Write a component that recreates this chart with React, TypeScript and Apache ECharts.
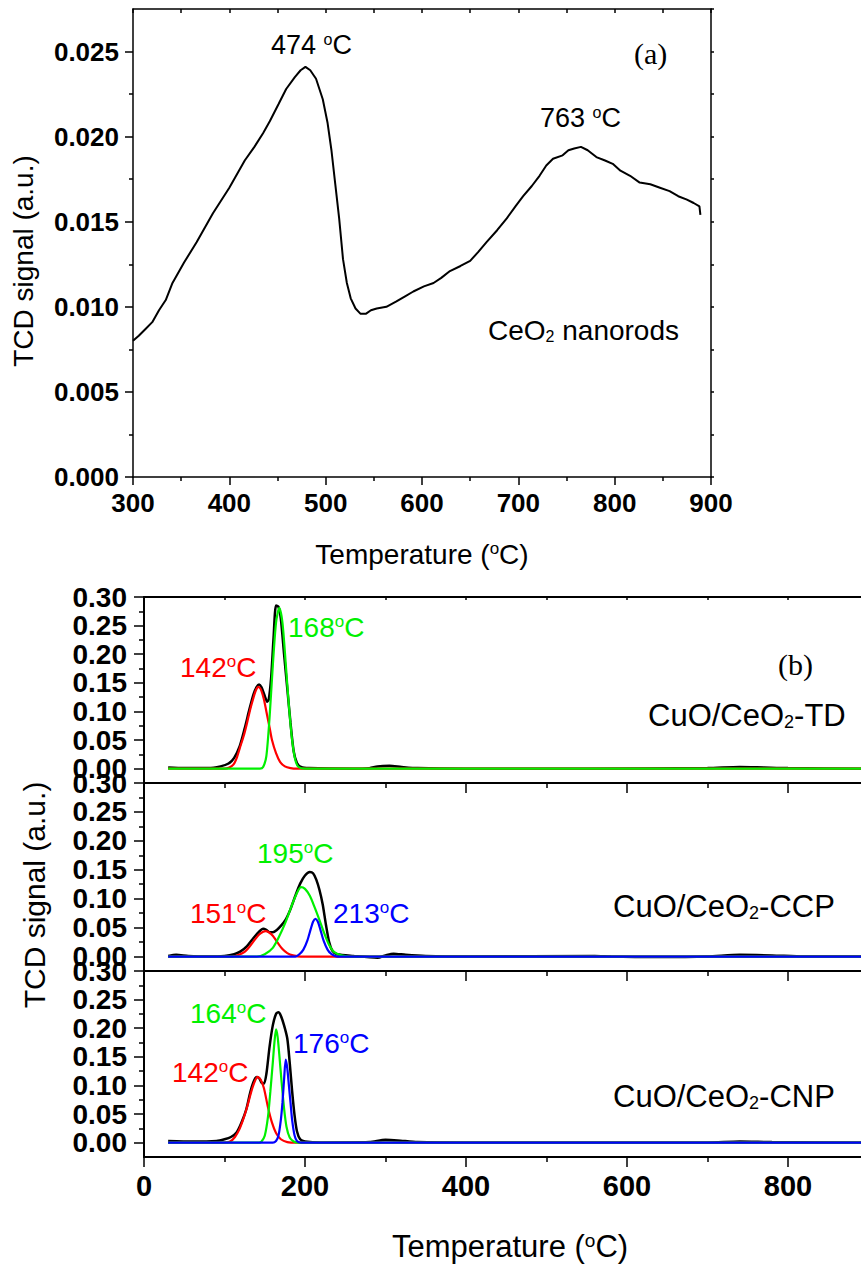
import React, { useEffect, useRef } from "react";
import * as echarts from "echarts";

const SANS = "'Liberation Sans', Arial, Helvetica, sans-serif";
const SERIF = "'Liberation Serif', 'Times New Roman', serif";
const RED = "#ff0000";
const GREEN = "#00f000";
const BLUE = "#0000ff";

// ---------- (a) CeO2 nanorods: [temperature °C, TCD signal] ----------
const ceo2Rods: number[][] = [
  [300, 0.0080], [306, 0.0083], [313, 0.0087], [320, 0.0091], [327, 0.0098], [334, 0.0104], [341, 0.0114],
  [353, 0.0126], [366, 0.0138], [383, 0.0155], [400, 0.0170], [416, 0.0186], [426, 0.0194], [435, 0.0202],
  [442, 0.0209], [451, 0.0219], [459, 0.0228], [468, 0.0235], [474, 0.0239], [479, 0.0241], [484, 0.0239],
  [490, 0.0234], [497, 0.0222], [502, 0.0208], [506, 0.0192], [510, 0.0172], [514, 0.0152], [518, 0.0128],
  [522, 0.0114], [526, 0.0105], [531, 0.0099], [536, 0.0096], [542, 0.0096], [547, 0.0098], [553, 0.0099],
  [563, 0.0100], [573, 0.0103], [582, 0.0106], [591, 0.0109], [602, 0.0112], [612, 0.0114], [620, 0.0117],
  [629, 0.0121], [640, 0.0124], [650, 0.0127], [658, 0.0132], [667, 0.0138], [678, 0.0145], [688, 0.0152],
  [697, 0.0159], [705, 0.0165], [714, 0.0171], [722, 0.0177], [729, 0.0183], [736, 0.0187], [746, 0.0189],
  [752, 0.0192], [758, 0.0193], [765, 0.0194], [772, 0.0192], [781, 0.0188], [790, 0.0186], [798, 0.0184],
  [806, 0.0180], [816, 0.0177], [826, 0.0173], [837, 0.0172], [847, 0.0170], [857, 0.0168], [866, 0.0165],
  [875, 0.0163], [882, 0.0161], [888, 0.0159], [889, 0.0154],
];

// ---------- (b) CuO/CeO2-TD ----------
const tdTotal: number[][] = [
  [30, 0.002], [50, 0.001], [80, 0.001], [95, 0.004], [105, 0.009], [112, 0.019], [119, 0.04], [125, 0.07],
  [131, 0.104], [136, 0.13], [140, 0.143], [143, 0.147], [146, 0.142], [150, 0.127], [153, 0.117], [155, 0.121],
  [158, 0.16], [161, 0.23], [164, 0.285], [167, 0.283], [170, 0.262], [174, 0.2], [178, 0.14], [182, 0.08],
  [186, 0.03], [190, 0.01], [195, 0.003], [205, 0.001], [260, 0], [280, 0.001], [290, 0.004], [305, 0.005],
  [320, 0.003], [340, 0.001], [400, 0], [550, 0], [700, 0.001], [740, 0.003], [770, 0.002], [800, 0.001], [900, 0],
];
const tdPeak142: number[][] = [
  [30, 0], [100, 0], [106, 0.002], [111, 0.007], [115, 0.018], [119, 0.036], [124, 0.058], [128, 0.08],
  [132, 0.104], [136, 0.124], [139, 0.137], [142, 0.143], [145, 0.139], [149, 0.121], [152, 0.1], [156, 0.072],
  [159, 0.05], [164, 0.027], [169, 0.012], [175, 0.004], [182, 0.001], [190, 0], [900, 0],
];
const tdPeak168: number[][] = [
  [30, 0], [144, 0], [148, 0.003], [152, 0.022], [156, 0.09], [160, 0.18], [164, 0.255], [168, 0.281],
  [172, 0.255], [176, 0.185], [180, 0.11], [184, 0.05], [188, 0.015], [192, 0.003], [200, 0], [900, 0],
];

// ---------- (b) CuO/CeO2-CCP ----------
const ccpTotal: number[][] = [
  [30, 0.001], [40, 0.003], [55, 0.001], [80, 0], [100, 0.001], [112, 0.004], [120, 0.009], [128, 0.018],
  [136, 0.032], [143, 0.043], [148, 0.048], [152, 0.046], [156, 0.042], [160, 0.042], [165, 0.046], [170, 0.053],
  [176, 0.064], [182, 0.082], [188, 0.105], [194, 0.126], [200, 0.14], [206, 0.146], [210, 0.144], [214, 0.133],
  [218, 0.115], [222, 0.09], [226, 0.055], [230, 0.025], [234, 0.01], [240, 0.004], [260, 0.001], [290, -0.002],
  [300, 0.002], [310, 0.005], [325, 0.003], [350, 0.001], [400, 0], [560, 0.001], [580, 0], [640, -0.001],
  [700, 0], [740, 0.003], [780, 0.002], [820, 0], [900, 0],
];
const ccpPeak151: number[][] = [
  [30, 0], [110, 0], [118, 0.003], [125, 0.008], [131, 0.017], [137, 0.028], [143, 0.038], [148, 0.043],
  [151, 0.044], [155, 0.042], [160, 0.036], [166, 0.024], [172, 0.013], [178, 0.006], [185, 0.002], [195, 0], [900, 0],
];
const ccpPeak195: number[][] = [
  [30, 0], [140, 0], [150, 0.004], [160, 0.015], [168, 0.035], [176, 0.06], [184, 0.09], [190, 0.11],
  [195, 0.12], [200, 0.117], [206, 0.105], [212, 0.085], [218, 0.063], [224, 0.04], [230, 0.02], [236, 0.008],
  [245, 0.002], [255, 0], [900, 0],
];
const ccpPeak213: number[][] = [
  [30, 0], [188, 0], [193, 0.004], [198, 0.012], [203, 0.028], [207, 0.047], [210, 0.06], [213, 0.065],
  [216, 0.06], [219, 0.047], [223, 0.028], [228, 0.012], [233, 0.004], [240, 0], [900, 0],
];

// ---------- (b) CuO/CeO2-CNP ----------
const cnpTotal: number[][] = [
  [30, 0.003], [60, 0.002], [90, 0.003], [100, 0.006], [108, 0.01], [115, 0.018], [121, 0.035], [127, 0.058],
  [132, 0.088], [136, 0.106], [140, 0.115], [143, 0.113], [146, 0.105], [149, 0.103], [152, 0.12], [156, 0.168],
  [160, 0.205], [164, 0.225], [167, 0.228], [170, 0.222], [174, 0.205], [178, 0.182], [181, 0.14], [184, 0.09],
  [187, 0.048], [190, 0.02], [194, 0.006], [200, 0.002], [220, 0], [280, 0.001], [300, 0.005], [315, 0.004],
  [340, 0.001], [400, 0], [700, 0], [740, 0.002], [780, 0.001], [900, 0],
];
const cnpPeak142: number[][] = [
  [30, 0], [100, 0], [107, 0.002], [113, 0.01], [118, 0.022], [123, 0.04], [128, 0.062], [133, 0.088],
  [137, 0.105], [141, 0.115], [145, 0.11], [149, 0.095], [154, 0.062], [159, 0.035], [164, 0.017], [170, 0.006],
  [178, 0.001], [190, 0], [900, 0],
];
const cnpPeak164: number[][] = [
  [30, 0], [143, 0], [146, 0.002], [150, 0.012], [154, 0.045], [157, 0.09], [160, 0.14], [162, 0.175],
  [164, 0.198], [166, 0.185], [168, 0.155], [171, 0.105], [174, 0.06], [177, 0.028], [181, 0.009], [186, 0.002],
  [192, 0], [900, 0],
];
const cnpPeak176: number[][] = [
  [30, 0], [160, 0], [164, 0.003], [167, 0.012], [170, 0.04], [172, 0.07], [174, 0.11], [176, 0.145],
  [178, 0.13], [180, 0.1], [182, 0.07], [184, 0.04], [187, 0.013], [190, 0.003], [195, 0], [900, 0],
];

// tick / label values
const aYLabels = [0, 0.005, 0.01, 0.015, 0.02, 0.025];
const aYMinor = [0.0025, 0.0075, 0.0125, 0.0175, 0.0225];
const aYRight = [0, 0.0025, 0.005, 0.0075, 0.01, 0.0125, 0.015, 0.0175, 0.02, 0.0225, 0.025, 0.0275];
const bYLabels = [0, 0.05, 0.1, 0.15, 0.2, 0.25, 0.3];
const bYMinor = [0.025, 0.075, 0.125, 0.175, 0.225, 0.275];

function rich(size: number, color: string, family: string = SANS) {
  return {
    n: { fontSize: size, lineHeight: size, fontFamily: family, fill: color },
    sup: { fontSize: Math.round(size * 0.6), lineHeight: size * 0.4, verticalAlign: "top", fontFamily: family, fill: color },
    sub: { fontSize: Math.round(size * 0.58), lineHeight: 2, verticalAlign: "bottom", fontFamily: family, fill: color },
  };
}

function txt(x: number, y: number, text: string, size: number, color = "#000", opts: any = {}) {
  return {
    type: "text",
    x,
    y,
    rotation: opts.rotation || 0,
    z: 100,
    style: {
      text,
      rich: rich(size, color, opts.family || SANS),
      align: opts.align || "left",
      verticalAlign: "middle",
      fill: color,
    },
  };
}

const black = { color: "#000", width: 1.5 };

function valueAxisBase(extra: any) {
  return {
    type: "value",
    splitLine: { show: false },
    ...extra,
  };
}

export default function App() {
  const ref = useRef<HTMLDivElement>(null);

  useEffect(() => {
    const chart = echarts.init(ref.current!, null, { renderer: "svg" });

    const bXBottom = (grid: number, showLabels: boolean) =>
      valueAxisBase({
        gridIndex: grid,
        position: "bottom",
        min: 0,
        max: 900,
        interval: 200,
        axisLine: { show: true, onZero: false, lineStyle: { color: "#000", width: 2 } },
        axisTick: { show: true, inside: false, length: 10, lineStyle: { color: "#000", width: 1.5 } },
        minorTick: { show: true, splitNumber: 2, length: 5, lineStyle: { color: "#000", width: 1.5 } },
        axisLabel: showLabels
          ? { show: true, margin: 14, color: "#000", fontFamily: SANS, fontWeight: "bold", fontSize: 29, formatter: (v: number) => (v > 850 ? "" : String(v)) }
          : { show: false },
      });

    const bYMain = (grid: number) =>
      valueAxisBase({
        gridIndex: grid,
        position: "left",
        min: -0.025,
        max: 0.3,
        axisLine: { show: true, onZero: false, lineStyle: { color: "#000", width: 2 } },
        axisTick: { show: true, inside: false, length: 10, customValues: bYLabels, lineStyle: { color: "#000", width: 1.5 } },
        axisLabel: {
          show: true,
          customValues: bYLabels,
          margin: 17,
          color: "#000",
          fontFamily: SANS,
          fontWeight: "bold",
          fontSize: 28,
          formatter: (v: number) => v.toFixed(2),
        },
      });
    const bYMinorAxis = (grid: number) =>
      valueAxisBase({
        gridIndex: grid,
        position: "left",
        min: -0.025,
        max: 0.3,
        axisLine: { show: false, onZero: false },
        axisTick: { show: true, inside: false, length: 5, customValues: bYMinor, lineStyle: { color: "#000", width: 1.5 } },
        axisLabel: { show: false },
      });

    const line = (data: number[][], color: string, xi: number, yi: number, width = 2.2, smooth: any = 0.25) => ({
      type: "line",
      data,
      xAxisIndex: xi,
      yAxisIndex: yi,
      showSymbol: false,
      symbol: "none",
      smooth,
      lineStyle: { color, width },
      itemStyle: { color },
      silent: true,
    });

    const option: any = {
      animation: false,
      backgroundColor: "#ffffff",
      grid: [
        { left: 133, top: 9, width: 578, height: 468 },
        { left: 144, top: 597, width: 724.5, height: 186 },
        { left: 144, top: 783, width: 724.5, height: 188 },
        { left: 144, top: 971, width: 724.5, height: 186 },
      ],
      xAxis: [
        valueAxisBase({
          gridIndex: 0,
          position: "bottom",
          min: 300,
          max: 900,
          interval: 100,
          axisLine: { show: true, onZero: false, lineStyle: black },
          axisTick: { show: true, inside: false, length: 8, lineStyle: black },
          minorTick: { show: true, splitNumber: 2, length: 4, lineStyle: black },
          axisLabel: { show: true, margin: 13, color: "#000", fontFamily: SANS, fontWeight: "bold", fontSize: 26 },
        }),
        valueAxisBase({
          gridIndex: 0,
          position: "top",
          min: 300,
          max: 900,
          interval: 50,
          axisLine: { show: true, onZero: false, lineStyle: black },
          axisTick: { show: true, inside: true, length: 4, lineStyle: black },
          axisLabel: { show: false },
        }),
        bXBottom(1, false),
        valueAxisBase({
          gridIndex: 1,
          position: "top",
          min: 0,
          max: 900,
          interval: 100,
          axisLine: { show: true, onZero: false, lineStyle: { color: "#000", width: 2 } },
          axisTick: { show: true, inside: true, length: 3, lineStyle: black },
          axisLabel: { show: false },
        }),
        bXBottom(2, false),
        bXBottom(3, true),
      ],
      yAxis: [
        valueAxisBase({
          gridIndex: 0,
          position: "left",
          min: 0,
          max: 0.0275,
          axisLine: { show: true, onZero: false, lineStyle: black },
          axisTick: { show: true, inside: false, length: 8, customValues: aYLabels, lineStyle: black },
          axisLabel: {
            show: true,
            customValues: aYLabels,
            margin: 14,
            color: "#000",
            fontFamily: SANS,
            fontWeight: "bold",
            fontSize: 26,
            formatter: (v: number) => v.toFixed(3),
          },
        }),
        valueAxisBase({
          gridIndex: 0,
          position: "left",
          min: 0,
          max: 0.0275,
          axisLine: { show: false, onZero: false },
          axisTick: { show: true, inside: false, length: 4, customValues: aYMinor, lineStyle: black },
          axisLabel: { show: false },
        }),
        valueAxisBase({
          gridIndex: 0,
          position: "right",
          min: 0,
          max: 0.0275,
          axisLine: { show: true, onZero: false, lineStyle: black },
          axisTick: { show: true, inside: false, length: 3, customValues: aYRight, lineStyle: black },
          axisLabel: { show: false },
        }),
        bYMain(1),
        bYMinorAxis(1),
        bYMain(2),
        bYMinorAxis(2),
        bYMain(3),
        bYMinorAxis(3),
      ],
      series: [
        line(ceo2Rods, "#000", 0, 0, 2, false),
        line(tdTotal, "#000", 2, 3, 2.5),
        line(tdPeak142, RED, 2, 3),
        line(tdPeak168, GREEN, 2, 3),
        line(ccpTotal, "#000", 4, 5, 2.5),
        line(ccpPeak151, RED, 4, 5),
        line(ccpPeak195, GREEN, 4, 5),
        line(ccpPeak213, BLUE, 4, 5),
        line(cnpTotal, "#000", 5, 7, 2.5),
        line(cnpPeak142, RED, 5, 7),
        line(cnpPeak164, GREEN, 5, 7),
        line(cnpPeak176, BLUE, 5, 7),
      ],
      graphic: [
        txt(271, 45, "{n|474 }{sup|o}{n|C}", 27),
        txt(540, 118, "{n|763 }{sup|o}{n|C}", 27),
        txt(634, 53, "{n|(a)}", 30, "#000", { family: SERIF }),
        txt(488, 330, "{n|CeO}{sub|2}{n| nanorods}", 28),
        txt(422, 554, "{n|Temperature (}{sup|o}{n|C)}", 28, "#000", { align: "center" }),
        txt(23, 261, "{n|TCD signal (a.u.)}", 28, "#000", { align: "center", rotation: Math.PI / 2 }),
        txt(778, 664, "{n|(b)}", 30, "#000", { family: SERIF }),
        txt(648, 715, "{n|CuO/CeO}{sub|2}{n|-TD}", 31),
        txt(613, 906, "{n|CuO/CeO}{sub|2}{n|-CCP}", 31),
        txt(613, 1096, "{n|CuO/CeO}{sub|2}{n|-CNP}", 31),
        txt(180, 667, "{n|142}{sup|o}{n|C}", 28, RED),
        txt(288, 627, "{n|168}{sup|o}{n|C}", 28, GREEN),
        txt(257, 853, "{n|195}{sup|o}{n|C}", 28, GREEN),
        txt(190, 913, "{n|151}{sup|o}{n|C}", 28, RED),
        txt(333, 913, "{n|213}{sup|o}{n|C}", 28, BLUE),
        txt(190, 1013, "{n|164}{sup|o}{n|C}", 28, GREEN),
        txt(293, 1043, "{n|176}{sup|o}{n|C}", 28, BLUE),
        txt(172, 1072, "{n|142}{sup|o}{n|C}", 28, RED),
        txt(510, 1246, "{n|Temperature (}{sup|o}{n|C)}", 31, "#000", { align: "center" }),
        txt(34, 895, "{n|TCD signal (a.u.)}", 30, "#000", { align: "center", rotation: Math.PI / 2 }),
      ],
    };

    chart.setOption(option);
    return () => chart.dispose();
  }, []);

  return (
    <div
      style={{ position: "absolute", left: 0, top: 0, width: 861, height: 1266, overflow: "hidden", background: "#fff" }}
    >
      <div ref={ref} style={{ width: 880, height: 1266 }} />
    </div>
  );
}
